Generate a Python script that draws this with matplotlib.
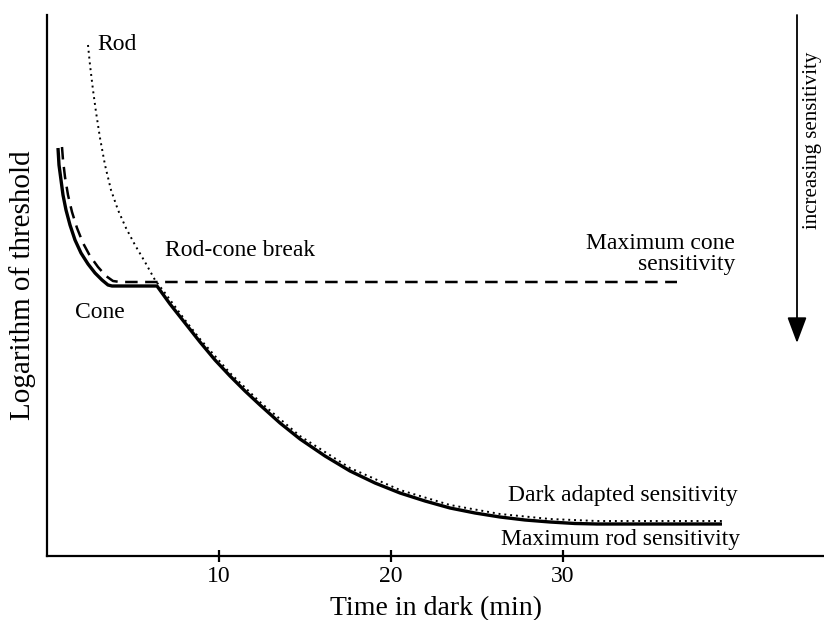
import matplotlib
matplotlib.use("Agg")
import matplotlib.pyplot as plt

# ---- data (time in minutes, log threshold in arbitrary units) ----
def px2x(p):
    return (p - 47) / 17.2

def px2y(p):
    return (556 - p) / 100.0

solid_px = [(58, 148), (59, 165), (61, 180), (63, 195), (66, 210), (70, 225), (75, 240),
            (81, 253), (88, 264), (95, 273), (102, 280), (108, 285), (112, 286),
            (157, 286), (170, 304), (185, 323), (200, 342), (215, 360), (230, 376),
            (245, 391), (260, 405), (280, 423), (300, 439), (325, 456), (350, 471),
            (375, 483), (400, 493), (425, 501), (450, 508), (475, 513), (500, 517),
            (525, 520), (550, 522), (575, 523.5), (597, 524), (722, 524)]
dashed_px = [(62, 147), (63, 160), (65, 177), (68, 195), (72, 212), (77, 228),
             (83, 243), (90, 256), (98, 267), (106, 276), (113, 281), (120, 282),
             (677, 282)]
dotted_px = [(88, 45), (90, 65), (93, 90), (96, 112), (100, 138), (105, 165),
             (111, 190), (118, 210), (126, 228), (135, 245), (145, 262), (155, 280),
             (165, 293), (185, 320), (200, 339), (230, 373), (260, 402), (300, 436),
             (350, 468), (400, 490), (450, 505), (500, 514), (550, 519), (597, 521),
             (722, 521)]

solid_t = [px2x(p[0]) for p in solid_px]
solid_v = [px2y(p[1]) for p in solid_px]
dashed_t = [px2x(p[0]) for p in dashed_px]
dashed_v = [px2y(p[1]) for p in dashed_px]
dotted_t = [px2x(p[0]) for p in dotted_px]
dotted_v = [px2y(p[1]) for p in dotted_px]

xticks = [10, 20, 30]
xtick_labels = ["10", "20", "30"]

serif = ["Liberation Serif", "DejaVu Serif"]
plt.rcParams['font.family'] = serif

fig = plt.figure(figsize=(8.24, 6.2), dpi=100)
ax = fig.add_axes([47 / 824, 1 - 556 / 620, 1 - 47 / 824, (556 - 15) / 620])
ax.set_xlim(0, px2x(824))
ax.set_ylim(0, px2y(15))

ax.plot(solid_t, solid_v, color='black', lw=2.4, solid_capstyle='butt',
        solid_joinstyle='round')
ax.plot(dashed_t, dashed_v, color='black', lw=1.8, dashes=(5, 3))
ax.plot(dotted_t, dotted_v, color='black', lw=1.4, linestyle=(0, (1, 2.0)))

for s in ['top', 'right']:
    ax.spines[s].set_visible(False)
for s in ['left', 'bottom']:
    ax.spines[s].set_linewidth(1.6)

ax.set_xticks(xticks)
ax.set_xticklabels(xtick_labels, fontsize=17)
ax.tick_params(axis='x', direction='inout', length=9, width=1.6, pad=3)
ax.set_yticks([])

ax.set_xlabel("Time in dark (min)", fontsize=20, labelpad=6)
ax.set_ylabel("Logarithm of threshold", fontsize=21, labelpad=8)

fs = 17
ax.text(px2x(97), px2y(45), "Rod", fontsize=fs, ha='left', va='center')
ax.text(px2x(165), px2y(250), "Rod-cone break", fontsize=fs, ha='left', va='center')
ax.text(px2x(75), px2y(312), "Cone", fontsize=fs, ha='left', va='center')
ax.text(px2x(735), px2y(254), "Maximum cone\nsensitivity", fontsize=fs, ha='right',
        va='center', multialignment='right', linespacing=1.0)
ax.text(px2x(738), px2y(496), "Dark adapted sensitivity", fontsize=fs, ha='right', va='center')
ax.text(px2x(740), px2y(540), "Maximum rod sensitivity", fontsize=fs, ha='right', va='center')

ax.annotate("", xy=(px2x(797), px2y(343)), xytext=(px2x(797), px2y(15)),
            arrowprops=dict(arrowstyle='-|>,head_length=1.6,head_width=0.6',
                            color='black', lw=1.3, shrinkA=0, shrinkB=0))
ax.text(px2x(813), px2y(140), "increasing sensitivity", fontsize=15, rotation=90,
        ha='center', va='center', clip_on=False)

fig.savefig("out.png", dpi=100)
